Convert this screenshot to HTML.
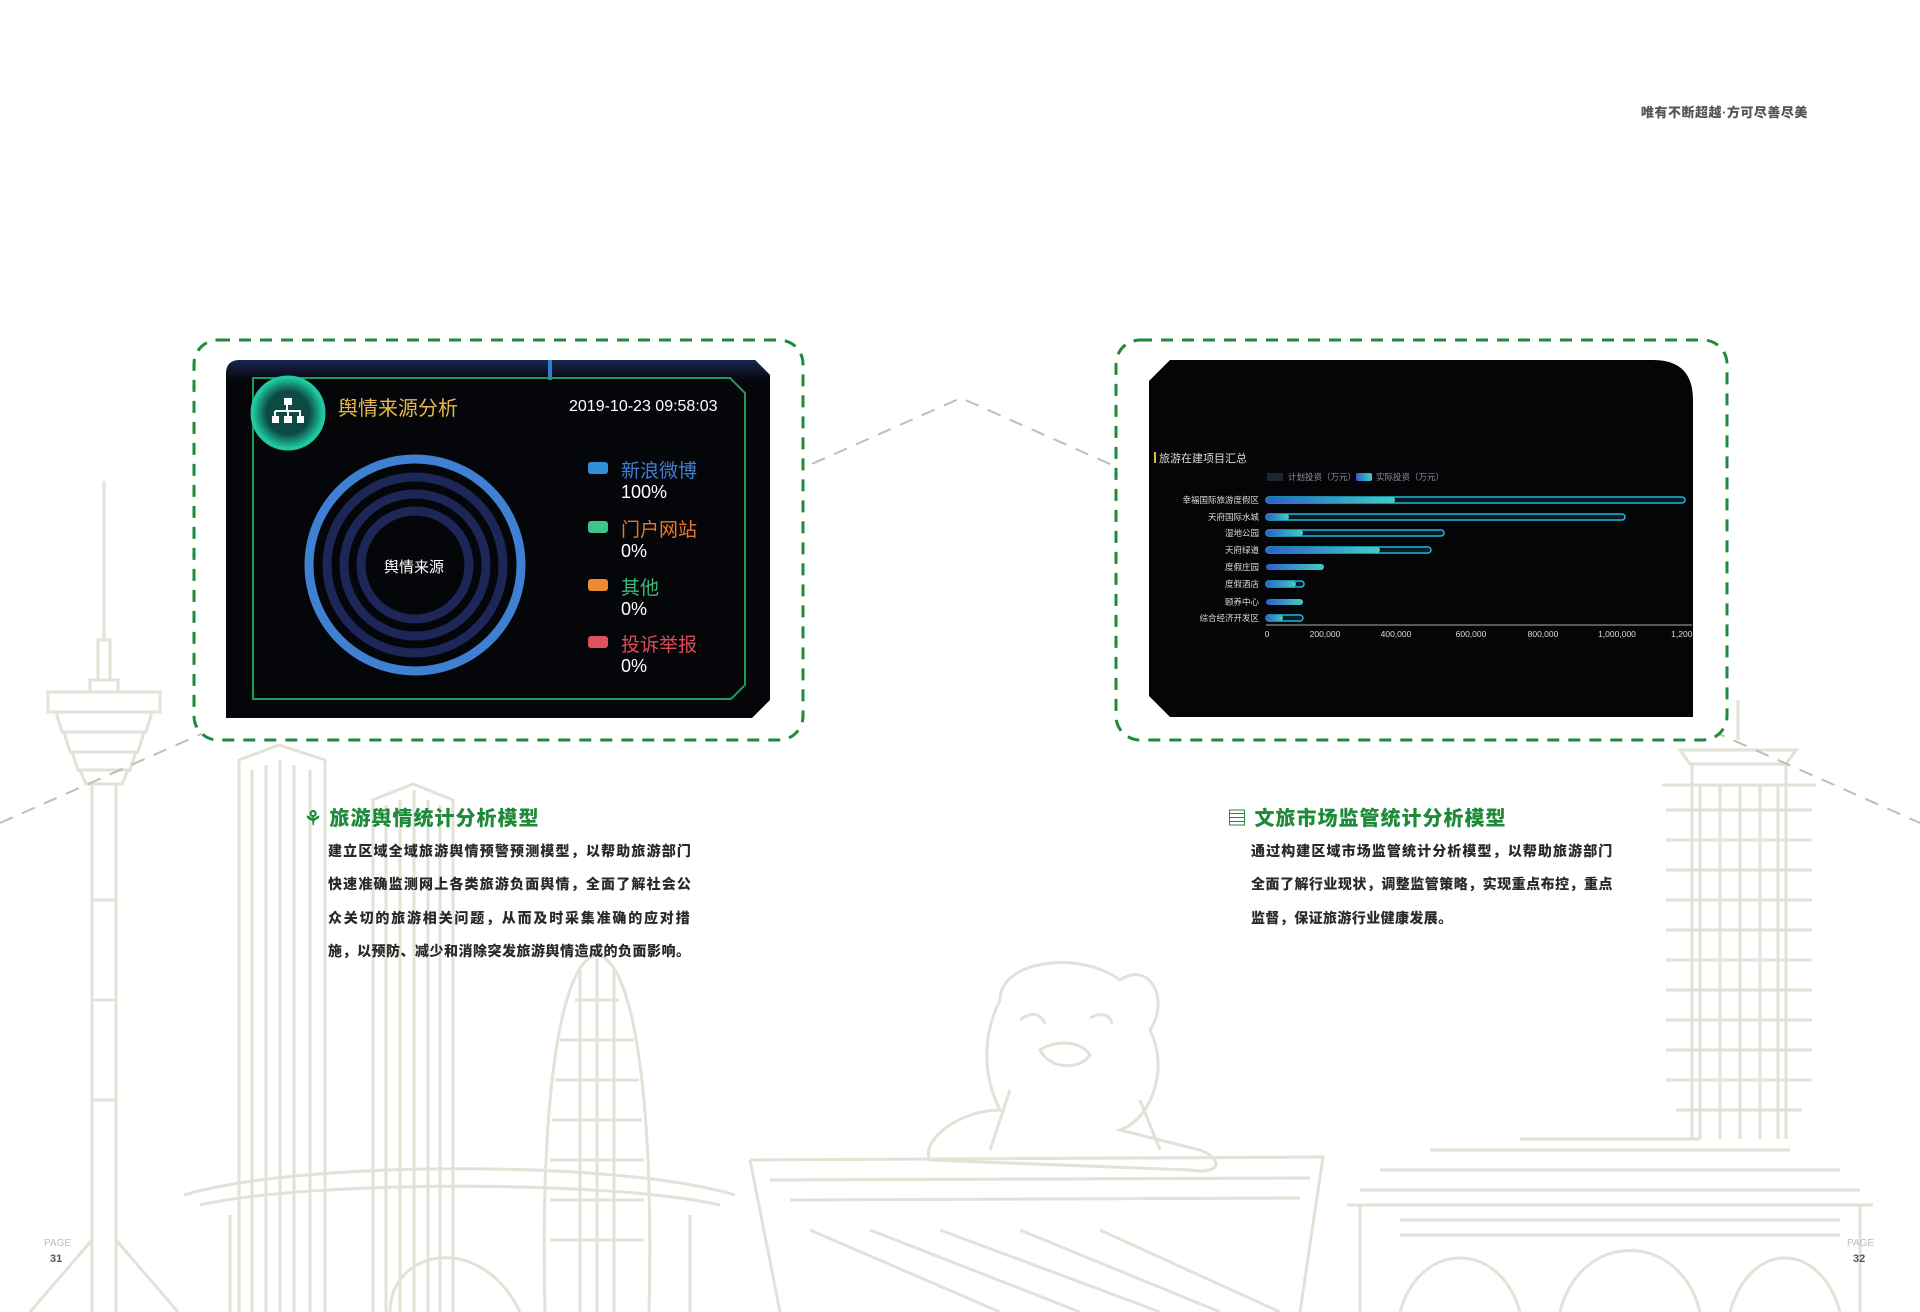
<!DOCTYPE html>
<html><head><meta charset="utf-8"><style>
html,body{margin:0;padding:0;background:#fff}
body{width:1920px;height:1312px;position:relative;overflow:hidden;font-family:"Liberation Sans","Noto Sans CJK SC",sans-serif}
svg{position:absolute;left:0;top:0}
.t{position:absolute;white-space:nowrap}
.ln{position:absolute;white-space:nowrap;font-weight:900;color:#2a2a2a;font-size:14px;height:20px;line-height:20px}
.hd{position:absolute;color:#1f8a3a;font-weight:900;font-size:20px;letter-spacing:1px}
</style></head><body>
<svg width="1920" height="1312" viewBox="0 0 1920 1312">
<g fill="none" stroke="#e2e2d6" stroke-width="3">
 <path d="M104 481 V640 M98 640 h12 v40 h-12z M90 680 h28 v12 h-28z M48 692 h112 v20 h-112z M56 712 h96 l-6 20 h-84z M64 732 h80 l-6 20 h-68z M72 752 h64 l-6 18 h-52z M80 770 h48 l-6 14 h-36z M92 784 V1312 M116 784 V1312 M92 1240 L30 1312 M116 1240 L178 1312 M92 900 h24 M92 1000 h24 M92 1100 h24"/>
 <path d="M239 1312 V760 l40 -15 l46 15 V1312 M252 770 V1312 M266 765 V1312 M280 760 V1312 M294 765 V1312 M310 770 V1312"/>
 <path d="M373 1312 V800 l40 -16 l40 16 V1312 M386 805 V1312 M400 800 V1312 M414 790 V1312 M428 800 V1312 M440 805 V1312"/>
 <path d="M545 1312 C540 1100 560 960 597 955 C634 960 654 1100 649 1312 M560 1040 h74 M555 1080 h84 M552 1120 h90 M550 1160 h94 M550 1200 h94 M550 1240 h94 M575 1000 h44 M580 970 V1312 M597 958 V1312 M614 970 V1312"/>
 <path d="M184 1195 C300 1160 620 1160 735 1195 M200 1205 C310 1180 610 1180 720 1205 M230 1312 V1215 M690 1312 V1215 M390 1312 C390 1250 480 1230 520 1312"/>
 <path d="M1000 1000 C1000 960 1080 950 1120 980 C1150 960 1170 1000 1150 1030 C1170 1070 1150 1120 1120 1130 L1200 1150 C1225 1160 1220 1175 1190 1170 L930 1160 C920 1140 960 1110 1000 1110 C980 1070 985 1030 1000 1000z M1040 1050 c15 -10 40 -10 50 5 c-10 15 -40 15 -50 -5z M1020 1020 c10 -8 20 -8 25 4 M1090 1018 c10 -6 20 -4 22 6 M1010 1090 L990 1150 M1140 1100 L1160 1150"/>
 <path d="M750 1160 L1323 1157 L1300 1312 M750 1160 L780 1312 M770 1180 L1310 1178 M790 1200 L1300 1198 M810 1230 L1000 1312 M870 1230 L1080 1312 M940 1230 L1160 1312 M1020 1230 L1220 1312 M1100 1230 L1280 1312"/>
 <path d="M1738 700 V740 M1680 750 h116 l-10 14 h-96z M1692 764 V1139 M1786 764 V1139 M1662 785 h154 M1666 810 h146 M1666 840 h146 M1666 870 h146 M1666 900 h146 M1666 930 h146 M1666 960 h146 M1666 990 h146 M1666 1020 h146 M1666 1050 h146 M1666 1080 h146 M1676 1110 h126 M1700 785 V1139 M1720 785 V1139 M1740 785 V1139 M1760 785 V1139 M1778 785 V1139"/>
 <path d="M1347 1205 h526 M1360 1190 h500 M1380 1170 h460 M1430 1150 h360 M1520 1139 h180 M1360 1205 V1312 M1860 1205 V1312 M1400 1312 C1420 1240 1500 1240 1520 1312 M1560 1312 C1580 1230 1680 1230 1700 1312 M1730 1312 C1750 1240 1820 1240 1840 1312 M1400 1220 h440 M1400 1235 h440"/>
</g>
<path d="M0 823 L961 398 L1920 823" fill="none" stroke="#bdbdbd" stroke-width="2" stroke-dasharray="14 10"/>
<rect x="194" y="340" width="609" height="400" rx="24" fill="#fff" stroke="#1e8a3c" stroke-width="3" stroke-dasharray="12 9"/>
<rect x="1116" y="340" width="611" height="400" rx="24" fill="#fff" stroke="#1e8a3c" stroke-width="3" stroke-dasharray="12 9"/>
<defs>
<linearGradient id="tg" x1="0" y1="0" x2="0" y2="1"><stop offset="0" stop-color="#1a2650"/><stop offset="1" stop-color="#05070c"/></linearGradient>
<linearGradient id="bg1" x1="0" y1="0" x2="1" y2="0"><stop offset="0" stop-color="#2d5fd0"/><stop offset="1" stop-color="#3fd0c0"/></linearGradient>
<radialGradient id="ic"><stop offset="0.6" stop-color="#0e4a44"/><stop offset="1" stop-color="#1fd0a8"/></radialGradient>
</defs>
<path d="M240 360 H755 L770 375 V700 L752 718 H226 V374 Q226 360 240 360z" fill="#05060a"/>
<path d="M240 360 H755 L770 375 V380 H226 V374 Q226 360 240 360z" fill="url(#tg)"/>
<rect x="548" y="360" width="4" height="20" fill="#2a80d0"/>
<path d="M253 378 H730 L745 393 V685 L731 699 H253 Z" fill="none" stroke="#1f9a5a" stroke-width="2"/>
<circle cx="288" cy="413" r="36" fill="url(#ic)" stroke="#20c8a0" stroke-width="3"/>
<g fill="#fff"><rect x="284" y="398" width="8" height="7"/><rect x="272" y="416" width="7" height="7"/><rect x="284" y="416" width="8" height="7"/><rect x="297" y="416" width="7" height="7"/><path d="M287 405 v6 M275 411 h26 M275 411 v5 M288 411 v5 M300 411 v5" stroke="#fff" stroke-width="2"/></g>
<circle cx="415" cy="565" r="106" fill="none" stroke="#3f80d2" stroke-width="9"/>
<circle cx="415" cy="565" r="88" fill="none" stroke="#1e2658" stroke-width="9"/>
<circle cx="415" cy="565" r="71" fill="none" stroke="#1e2658" stroke-width="9"/>
<circle cx="415" cy="565" r="54" fill="none" stroke="#1e2658" stroke-width="9"/>
<rect x="588" y="462" width="20" height="12" rx="3" fill="#2f8fd8"/>
<rect x="588" y="521" width="20" height="12" rx="3" fill="#3fc48a"/>
<rect x="588" y="579" width="20" height="12" rx="3" fill="#f08a30"/>
<rect x="588" y="636" width="20" height="12" rx="3" fill="#e0525a"/>
<path d="M1170 360 H1653 Q1693 360 1693 400 V717 H1170 L1149 696 V381 Z" fill="#050507"/>
<rect x="1154" y="452" width="2" height="11" fill="#e8b84a"/>
<rect x="1267" y="473" width="16" height="8" fill="#1a2538"/>
<rect x="1356" y="473" width="16" height="8" rx="2" fill="url(#bg1)"/>
<g stroke-width="1.5">
 <rect x="1266" y="497" width="419" height="6" rx="3" fill="#061a28" stroke="#22b8d8"/><rect x="1266" y="497" width="129" height="6" rx="3" fill="url(#bg1)"/>
 <rect x="1266" y="514" width="359" height="6" rx="3" fill="#061a28" stroke="#22b8d8"/><rect x="1266" y="514" width="23" height="6" rx="3" fill="url(#bg1)"/>
 <rect x="1266" y="530" width="178" height="6" rx="3" fill="#061a28" stroke="#22b8d8"/><rect x="1266" y="530" width="37" height="6" rx="3" fill="url(#bg1)"/>
 <rect x="1266" y="547" width="165" height="6" rx="3" fill="#061a28" stroke="#22b8d8"/><rect x="1266" y="547" width="114" height="6" rx="3" fill="url(#bg1)"/>
 <rect x="1266" y="564" width="58" height="6" rx="3" fill="url(#bg1)"/>
 <rect x="1266" y="581" width="38" height="6" rx="3" fill="#061a28" stroke="#22b8d8"/><rect x="1266" y="581" width="30" height="6" rx="3" fill="url(#bg1)"/>
 <rect x="1266" y="599" width="37" height="6" rx="3" fill="url(#bg1)"/>
 <rect x="1266" y="615" width="37" height="6" rx="3" fill="#061a28" stroke="#22b8d8"/><rect x="1266" y="615" width="17" height="6" rx="3" fill="url(#bg1)"/>
</g>
<line x1="1266" y1="625" x2="1692" y2="625" stroke="#aaa" stroke-width="1"/>
<g font-size="8.5" fill="#ddd" text-anchor="end" font-family="Liberation Sans,Noto Sans CJK SC,sans-serif">
<text x="1259" y="503">幸福国际旅游度假区</text><text x="1259" y="520">天府国际水城</text><text x="1259" y="536">湿地公园</text><text x="1259" y="553">天府绿道</text><text x="1259" y="570">度假庄园</text><text x="1259" y="587">度假酒店</text><text x="1259" y="605">颐养中心</text><text x="1259" y="621">综合经济开发区</text>
</g>
<g font-size="8.5" fill="#ddd" text-anchor="middle" font-family="Liberation Sans,sans-serif">
<text x="1267" y="637">0</text><text x="1325" y="637">200,000</text><text x="1396" y="637">400,000</text><text x="1471" y="637">600,000</text><text x="1543" y="637">800,000</text><text x="1617" y="637">1,000,000</text><text x="1683" y="637">1,200,</text>
</g>
<g font-size="8.5" fill="#8a94a0" font-family="Liberation Sans,Noto Sans CJK SC,sans-serif"><text x="1288" y="480">计划投资（万元）</text><text x="1376" y="480">实际投资（万元）</text></g>
<text x="1159" y="462" font-size="11" fill="#ddd" font-family="Liberation Sans,Noto Sans CJK SC,sans-serif">旅游在建项目汇总</text>
</svg>

<div class="t" style="left:1641px;top:102px;font-size:13px;font-weight:900;color:#555;letter-spacing:0.5px">唯有不断超越·方可尽善尽美</div>

<div class="t" style="left:338px;top:392px;font-size:20px;color:#e8b84a">舆情来源分析</div>
<div class="t" style="left:569px;top:398px;font-size:16px;color:#fff">2019-10-23 09:58:03</div>
<div class="t" style="left:384px;top:556px;font-size:15px;color:#fff">舆情来源</div>
<div class="t" style="left:621px;top:456px;font-size:19px;color:#3f7fd0">新浪微博</div>
<div class="t" style="left:621px;top:482px;font-size:18px;color:#fff">100%</div>
<div class="t" style="left:621px;top:515px;font-size:19px;color:#e8782a">门户网站</div>
<div class="t" style="left:621px;top:541px;font-size:18px;color:#fff">0%</div>
<div class="t" style="left:621px;top:573px;font-size:19px;color:#3fb87a">其他</div>
<div class="t" style="left:621px;top:599px;font-size:18px;color:#fff">0%</div>
<div class="t" style="left:621px;top:630px;font-size:19px;color:#e04a55">投诉举报</div>
<div class="t" style="left:621px;top:656px;font-size:18px;color:#fff">0%</div>

<div class="hd" style="left:304px;top:802px">⚘ 旅游舆情统计分析模型</div>
<div class="ln" style="left:328px;top:841px;letter-spacing:1.17px">建立区域全域旅游舆情预警预测模型，以帮助旅游部门</div>
<div class="ln" style="left:328px;top:874px;letter-spacing:1.17px">快速准确监测网上各类旅游负面舆情，全面了解社会公</div>
<div class="ln" style="left:328px;top:908px;letter-spacing:1.8px">众关切的旅游相关问题，从而及时采集准确的应对措</div>
<div class="ln" style="left:328px;top:941px;letter-spacing:0.5px">施，以预防、减少和消除突发旅游舆情造成的负面影响。</div>

<div class="hd" style="left:1227px;top:802px">▤ 文旅市场监管统计分析模型</div>
<div class="ln" style="left:1251px;top:841px;letter-spacing:1.1px">通过构建区域市场监管统计分析模型，以帮助旅游部门</div>
<div class="ln" style="left:1251px;top:874px;letter-spacing:0.48px">全面了解行业现状，调整监管策略，实现重点布控，重点</div>
<div class="ln" style="left:1251px;top:908px;letter-spacing:0.4px">监督，保证旅游行业健康发展。</div>

<div class="t" style="left:44px;top:1238px;font-size:10px;color:#bbb">PAGE</div>
<div class="t" style="left:50px;top:1253px;font-size:11px;color:#555;font-weight:bold">31</div>
<div class="t" style="left:1847px;top:1238px;font-size:10px;color:#bbb">PAGE</div>
<div class="t" style="left:1853px;top:1253px;font-size:11px;color:#555;font-weight:bold">32</div>
</body></html>
